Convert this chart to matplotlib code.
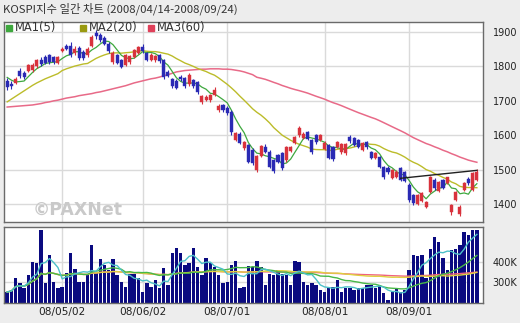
import matplotlib
matplotlib.use("Agg")
import matplotlib.pyplot as plt
import pandas as pd

# ---------------- data ----------------
opens = [1758, 1750, 1752, 1788, 1780, 1788, 1790, 1800, 1818, 1826, 1832, 1826, 1810,
         1846, 1860, 1858, 1838, 1854, 1843, 1832, 1858, 1896, 1890, 1882, 1866, 1812,
         1832, 1818, 1804, 1812, 1828, 1840, 1856, 1838, 1820, 1818, 1832, 1818, 1785,
         1762, 1758, 1770, 1766, 1748, 1760, 1755, 1697, 1703, 1702, 1718, 1673, 1688,
         1680, 1668, 1586, 1605, 1563, 1571, 1557, 1500, 1540, 1565, 1551, 1528, 1542,
         1548, 1528, 1553, 1578, 1600, 1592, 1608, 1586, 1600, 1586, 1560, 1573, 1565,
         1566, 1550, 1548, 1596, 1592, 1586, 1557, 1580, 1551, 1534, 1536, 1507, 1505,
         1476, 1480, 1505, 1492, 1455, 1426, 1400, 1410, 1392, 1436, 1470, 1437, 1470,
         1462, 1376, 1412, 1372, 1442, 1473, 1442, 1470]
highs = [1765, 1758, 1770, 1794, 1786, 1808, 1810, 1822, 1826, 1832, 1836, 1830, 1830,
         1856, 1866, 1872, 1858, 1860, 1848, 1856, 1890, 1905, 1896, 1888, 1870, 1844,
         1836, 1822, 1836, 1834, 1852, 1860, 1866, 1842, 1838, 1834, 1836, 1822, 1790,
         1766, 1762, 1774, 1770, 1780, 1764, 1758, 1718, 1716, 1720, 1740, 1690, 1692,
         1684, 1672, 1610, 1610, 1584, 1576, 1562, 1544, 1572, 1575, 1556, 1532, 1546,
         1552, 1570, 1570, 1598, 1626, 1610, 1612, 1590, 1604, 1604, 1582, 1576, 1568,
         1584, 1578, 1578, 1600, 1596, 1590, 1580, 1584, 1555, 1552, 1540, 1510, 1510,
         1502, 1498, 1508, 1496, 1460, 1430, 1428, 1436, 1408, 1482, 1476, 1468, 1474,
         1480, 1400, 1438, 1396, 1464, 1478, 1492, 1502]
lows = [1732, 1733, 1748, 1766, 1762, 1784, 1785, 1796, 1800, 1806, 1808, 1808, 1806,
        1842, 1848, 1826, 1834, 1818, 1818, 1828, 1856, 1880, 1872, 1862, 1838, 1808,
        1806, 1794, 1800, 1808, 1824, 1836, 1840, 1816, 1816, 1814, 1810, 1762, 1768,
        1738, 1734, 1758, 1738, 1744, 1738, 1720, 1692, 1700, 1698, 1714, 1668, 1668,
        1660, 1600, 1582, 1574, 1558, 1518, 1515, 1492, 1536, 1548, 1504, 1490, 1518,
        1500, 1522, 1550, 1574, 1596, 1588, 1586, 1545, 1576, 1582, 1556, 1530, 1526,
        1562, 1546, 1544, 1578, 1570, 1562, 1554, 1560, 1530, 1530, 1504, 1474, 1488,
        1472, 1476, 1466, 1464, 1405, 1398, 1396, 1406, 1388, 1432, 1442, 1434, 1444,
        1458, 1368, 1408, 1366, 1438, 1456, 1438, 1466]
closes = [1740, 1742, 1764, 1772, 1770, 1803, 1804, 1818, 1806, 1811, 1814, 1812, 1826,
          1852, 1850, 1834, 1852, 1825, 1824, 1852, 1886, 1888, 1876, 1866, 1846, 1840,
          1810, 1798, 1833, 1830, 1848, 1856, 1846, 1820, 1833, 1830, 1815, 1768, 1772,
          1742, 1738, 1762, 1742, 1775, 1742, 1725, 1715, 1712, 1716, 1732, 1686, 1672,
          1665, 1608, 1606, 1578, 1580, 1522, 1520, 1540, 1568, 1552, 1508, 1496, 1522,
          1505, 1566, 1565, 1595, 1620, 1605, 1590, 1550, 1580, 1600, 1578, 1535, 1530,
          1580, 1575, 1574, 1582, 1573, 1566, 1577, 1565, 1534, 1548, 1508, 1478, 1493,
          1499, 1494, 1470, 1468, 1412, 1403, 1425, 1432, 1405, 1480, 1446, 1465, 1448,
          1478, 1397, 1435, 1392, 1460, 1460, 1490, 1494]
# volume in thousands
volumes = [249, 259, 320, 295, 270, 335, 402, 396, 564, 295, 437, 300, 270, 275, 346, 447,
           366, 300, 300, 335, 488, 346, 417, 386, 361, 417, 335, 300, 275, 341, 341, 320,
           249, 295, 275, 310, 270, 371, 285, 447, 473, 447, 386, 396, 473, 376, 335, 422,
           396, 376, 335, 295, 300, 386, 407, 270, 275, 381, 376, 407, 376, 285, 341, 335,
           361, 341, 335, 285, 407, 402, 300, 285, 295, 285, 259, 249, 270, 275, 310, 249,
           270, 270, 259, 270, 270, 285, 285, 270, 285, 244, 209, 249, 270, 249, 259, 361,
           437, 432, 437, 320, 468, 528, 503, 422, 361, 462, 468, 488, 554, 538, 564, 564]
# moving-average values at the start of the window
ma5_head = [1768, 1760, 1755, 1756]
ma20_head = [1697, 1705, 1713, 1721, 1729, 1737, 1745, 1752, 1758, 1764, 1769, 1774,
             1779, 1788, 1793, 1797, 1801, 1804, 1807]
ma60_head = [1682, 1683, 1684, 1685, 1686, 1687, 1688, 1690, 1692, 1695, 1697, 1700,
             1702, 1705, 1708, 1710, 1712, 1715, 1717, 1719, 1721, 1724, 1726, 1729,
             1732, 1735, 1738, 1741, 1744, 1748, 1752, 1755, 1758, 1761, 1764, 1766,
             1769, 1773, 1776, 1780, 1784, 1786, 1788, 1789, 1790, 1791, 1792, 1792,
             1793, 1793, 1793, 1792, 1792, 1791, 1789, 1787, 1784, 1780, 1776]
trend_idx = [93, 111]
trend_val = [1475, 1498]
tick_idx = [13, 32, 52, 75, 95]
tick_labels = ["08/05/02", "08/06/02", "08/07/01", "08/08/01", "08/09/01"]
price_ticks = [1400, 1500, 1600, 1700, 1800, 1900]
vol_ticks = [300, 400]
vol_tick_labels = ["300K", "400K"]
title = "KOSPI지수 일간 차트 (2008/04/14-2008/09/24)"
legend_labels = ["MA1(5)", "MA2(20)", "MA3(60)"]

# ---------------- derived ----------------
n = len(closes)
idx = list(range(n))
cs = pd.Series(closes, dtype=float)

def ma(window, head):
    r = cs.rolling(window).mean().tolist()
    return head + r[len(head):]

ma5 = ma(5, ma5_head)
ma20 = ma(20, ma20_head)
ma60 = ma(60, ma60_head)
vs = pd.Series(volumes, dtype=float)
vma5 = vs.rolling(5, min_periods=1).mean()
vma20 = vs.rolling(20, min_periods=1).mean()
vma60 = vs.rolling(60, min_periods=1).mean()
vma120 = vs.rolling(120, min_periods=1).mean()

plt.rcParams['font.family'] = ['DejaVu Sans']
RED = '#d8323c'
BLUE = '#2a2ab4'
C_MA5 = '#3ea83e'
C_MA20 = '#bcbc2a'
C_MA60 = '#e86a88'
GRID = '#dadada'
BG = '#ededed'

W, H = 520, 323
fig = plt.figure(figsize=(W / 100, H / 100), dpi=100)
fig.patch.set_facecolor(BG)

def frac(x0, y0, x1, y1):
    return [x0 / W, 1 - y1 / H, (x1 - x0) / W, (y1 - y0) / H]

ax = fig.add_axes(frac(4, 22, 483, 222))
axv = fig.add_axes(frac(4, 227, 483, 303))

xlo, xhi = -0.75, 112.45
for a in (ax, axv):
    a.set_facecolor('white')
    a.set_xlim(xlo, xhi)
    for s in a.spines.values():
        s.set_color('#6a6a6a')
        s.set_linewidth(1.0)
    a.set_xticks(tick_idx)
    a.tick_params(length=0)
    a.grid(True, color=GRID, linewidth=1.0)
    a.set_axisbelow(True)
    a.yaxis.tick_right()

# ---- price panel ----
ax.set_ylim(1348, 1929)
ax.set_yticks(price_ticks)
ax.set_yticklabels([str(t) for t in price_ticks], fontsize=7, color='#222222')
ax.tick_params(axis='y', pad=7)
ax.set_xticklabels([])

ax.text(6, 1356, "©PAXNet", fontsize=12.5, fontweight='bold', color='#c9c9c9',
        transform=ax.transData, ha='left', va='bottom', zorder=1)

ax.plot(idx, ma60, color=C_MA60, lw=1.1, zorder=2)
ax.plot(idx, ma20, color=C_MA20, lw=1.0, zorder=2)
ax.plot(idx, ma5, color=C_MA5, lw=0.9, zorder=2)

bw = 0.72
for i in idx:
    o, h, l, c = opens[i], highs[i], lows[i], closes[i]
    col = RED if c >= o else BLUE
    ax.vlines(i, l, h, color=col, lw=0.8, zorder=3)
    bot = min(o, c)
    ht = max(abs(c - o), 1.5)
    ax.bar(i, ht, bottom=bot, width=bw, color=col, edgecolor=col, lw=0.3, zorder=4)

ax.plot(trend_idx, trend_val, color='#202020', lw=1.0, zorder=5)

# legend (squares + text)
leg_cols = [C_MA5, '#9a9a10', '#e0405a']
leg_x = [6, 80, 148]
for lx, lc, lt in zip(leg_x, leg_cols, legend_labels):
    fig.patches.append(plt.Rectangle((lx / W, 1 - 31 / H), 6 / W, 6 / H,
                                     transform=fig.transFigure, color=lc, zorder=10))
    fig.text((lx + 9) / W, 1 - 28 / H, lt, fontsize=8.3, color='#333333',
             ha='left', va='center', zorder=10)

# ---- volume panel ----
axv.set_ylim(193, 579)
axv.set_yticks(vol_ticks)
axv.set_yticklabels(vol_tick_labels, fontsize=7, color='#222222')
axv.tick_params(axis='y', pad=7)
axv.set_xticklabels(tick_labels, fontsize=7.6, color='#222222')
axv.tick_params(axis='x', pad=3)
axv.bar(idx, [v - 193 for v in volumes], bottom=193, width=0.8, color='#0a0a80', zorder=2)
axv.plot(idx, vma120, color='#f06080', lw=1.0, zorder=3)
axv.plot(idx, vma60, color='#e0d040', lw=1.0, zorder=3)
axv.plot(idx, vma20, color='#48b848', lw=1.0, zorder=3)
axv.plot(idx, vma5, color='#4cc0c8', lw=1.0, zorder=3)

fig.text(3 / W, 1 - 9 / H, title, fontsize=8.2, color='#333333', ha='left', va='center',
         family=['Noto Sans CJK KR', 'DejaVu Sans'])

fig.savefig("out.png", dpi=100, facecolor=fig.get_facecolor())
